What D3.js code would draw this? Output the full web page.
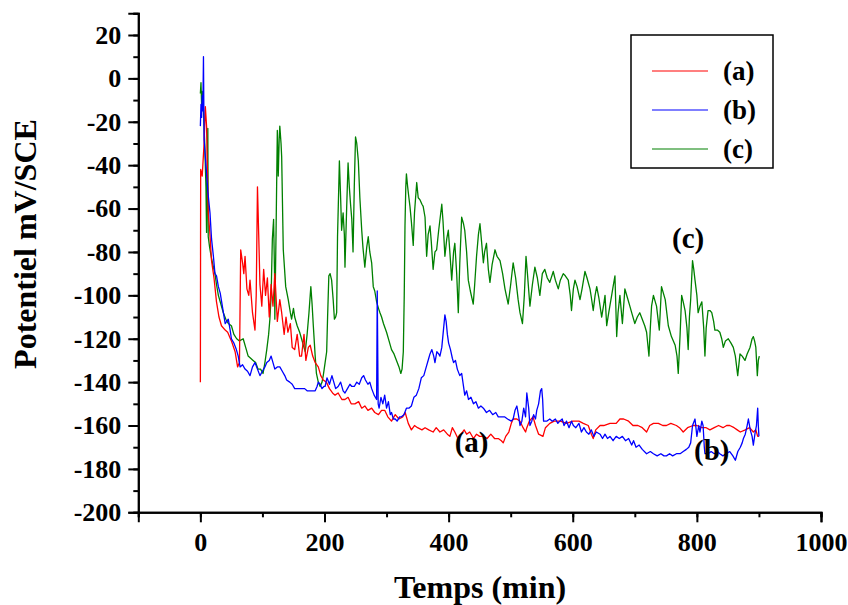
<!DOCTYPE html>
<html><head><meta charset="utf-8">
<script src="https://cdn.jsdelivr.net/npm/d3@7"></script>
<style>body{margin:0;background:#fff;} svg{display:block;} text{font-family:"Liberation Serif","Times New Roman",serif;font-weight:bold;fill:#000;}</style>
</head><body>
<svg id="chart" width="848" height="605"></svg>
<script>
// ---- DATA ----
const seriesNames = ["(a)", "(b)", "(c)"];
const seriesColors = ["#ff0000", "#0000ff", "#008000"];
const xTickValues = [0, 200, 400, 600, 800, 1000];
const yTickValues = [20, 0, -20, -40, -60, -80, -100, -120, -140, -160, -180, -200];

const timeA = [0,0.5,3,6,8,10,12.7,15,18,22,26,30,34,40,44,50,56,60,63,65,68,70,72,75,78,80,84,88,90,92,94,96,99,102,105,108,111,114,117,120,124,128,131,135,138,141,145,148,152,156,160,163,167,170,174,177,181,185,190,194,198,203,208,213,217,222,228,233,238,243,249,255,260,265,270,276,281,287,292,297,302,308,314,320,326,330,335,340,345,350,357,362,368,375,380,386,392,398,402,406,410,415,420,425,429,434,440,445,450,456,462,468,474,480,485,488,492,497,501,504,510,515,520,524,526,530,536,540,545,552,556,563,570,580,590,600,610,617,625,630,633,637,644,650,660,670,676,682,690,697,705,712,719,724,730,738,745,751,758,767,772,778,785,794,800,808,815,821,828,835,842,848,853,860,865,870,878,885,891,895,898,900];
const potA = [-140,-42,-45,-30,-13,-22,-62,-70,-84,-92,-103,-110,-114,-116,-117,-121,-126,-133,-131,-79,-85,-90,-82,-97,-100,-93,-108,-116,-100,-50,-72,-95,-105,-88,-100,-92,-110,-95,-105,-90,-112,-102,-108,-118,-110,-117,-113,-124,-125,-118,-128,-128,-118,-130,-124,-123,-128,-131,-133,-137,-139,-140,-143,-145,-146,-145,-148,-148,-147,-150,-150,-149,-152,-151,-153,-152,-154,-155,-153,-153,-156,-158,-155,-157,-156,-154,-159,-162,-160,-161,-162,-161,-162,-163,-161,-163,-162,-164,-165,-161,-163,-166,-164,-162,-164,-163,-166,-164,-165,-165,-166,-164,-166,-166,-167,-168,-165,-163,-159,-157,-157,-158,-161,-163,-161,-158,-156,-160,-164,-165,-161,-159,-158,-158,-159,-158,-158,-159,-160,-164,-166,-162,-160,-160,-159,-159,-157,-157,-158,-160,-160,-161,-163,-160,-159,-159,-160,-160,-159,-160,-161,-163,-161,-160,-160,-161,-161,-162,-161,-160,-161,-160,-160,-161,-162,-163,-162,-161,-163,-162,-165,-165];

const timeB = [0,1,2,3,4,5,6,8,10,12,15.5,18,21,23.5,26,29,32,36,40,45,48,50,54,58,61,64,68,72,76,80,84,88,92,96,100,104,107,111,114,117,120,124,128,132,136,139,144,148,152,157,162,168,172,177,182,185,188,190,193,196,199,201,204,208,212,215,218,222,226,230,233,237,241,244,248,252,256,260,263,266,270,273,276,280,284,285,286.5,288,291,294,297,300,303,306,308,311,314,317,321,324,328,332,336,340,344,348,352,356,360,364,368,370,373,376,378,381,384,386,389,392,394,396,398,400,403,406,408,411,414,418,421,424,426,429,432,436,440,444,448,452,456,461,466,471,476,480,485,490,495,501,504,507,510,513,515,518,521,524,526,529,531,534,537,540,542,545,548,550,551.5,553,558,563,567,572,576,579,583,586,590,594,598,601,605,610,614,618,622,626,630,634,638,644,648,652,656,660,665,670,675,680,685,690,695,698,702,707,712,719,725,730,736,742,747,751,756,761,767,773,778,783,787,790,793,797,800,803,805,808,810,812,813,818,823,828,833,837,842,847,853,858,862,866,870,873,875,878,881,883,886,889,891,894,896,898,899,900];
const potB = [-22,-12,-18,-8,-15,10,-28,-36,-44,-52,-62,-74,-82,-90,-91,-96,-99,-106,-113,-111,-116,-120,-122,-125,-128,-133,-132,-134,-135,-137,-133,-131,-134,-137,-135,-133,-131,-130,-128,-131,-134,-133,-133,-135,-137,-139,-140,-141,-143,-143,-143,-143,-144,-144,-144,-144,-142,-140,-141,-143,-142,-142,-138,-141,-137,-140,-143,-142,-140,-144,-145,-143,-141,-142,-142,-140,-141,-138,-137,-139,-141,-140,-143,-146,-148,-98,-150,-152,-147,-150,-146,-152,-149,-155,-154,-157,-157,-158,-156,-156,-155,-152,-152,-151,-147,-146,-143,-138,-137,-133,-129,-127,-125,-128,-131,-126,-127,-128,-124,-115,-109,-112,-118,-122,-125,-129,-131,-130,-134,-137,-136,-142,-146,-144,-148,-147,-150,-149,-152,-151,-152,-154,-153,-155,-154,-156,-156,-156,-157,-158,-157,-153,-151,-156,-160,-158,-152,-156,-145,-152,-160,-158,-155,-157,-153,-150,-144,-143,-148,-158,-158,-157,-158,-157,-159,-158,-157,-160,-158,-161,-158,-160,-161,-159,-163,-161,-163,-164,-162,-165,-163,-164,-166,-164,-166,-165,-167,-165,-166,-165,-167,-166,-169,-167,-170,-169,-171,-173,-172,-173,-174,-173,-174,-174,-173,-174,-173,-173,-172,-171,-170,-168,-160,-157,-165,-160,-163,-158,-160,-170,-173,-173,-172,-173,-172,-173,-174,-173,-172,-174,-176,-172,-170,-168,-166,-164,-160,-157,-162,-165,-169,-163,-160,-152,-160,-165];

const timeC = [0,1,2,3,4,5,7,9,10,12,12.7,15,18,21,23.5,26,29,33,37,41,45,50,54,58.5,63,69,73,77,81,85,89,93,97,101,104,107,110,112,114,116,118,119.5,120,122,124,125.5,127,128,130,131,133.6,137.5,141.6,145,147,150,152,156,160,165,169,172,175,178,180,182,185,187,190,193,196,198,201,203.5,205,207,209,211.5,214,216,218,219.6,221,223,224,226,227.6,230,232,233,235.7,238,240,242,244,246,248,250,252,254.5,257,260,262,265,268,270.5,273,276,278.6,281,284,287,289.4,292,295,300,304,308,312,316,320,323,325,327,328.5,329.7,331,332,334,336,337.7,340,343,345,348.6,351,354,357,359,362,364.6,367,370,372,375,378,380.7,384,389,391,394,397,399.5,402,405,408,410,413,415.6,418,421,424,426,429,431.7,435,439.7,442,445,448,450.5,453,456,458,461,464,466.6,470,474.7,478,482.8,487,490.8,493,496,500,504,508,512,515,519,522,524.7,527,531,535,539,543,547,551,555,559,563,568.6,572,576.7,580,584.7,588,592.8,596,598,601,603.6,607,611.7,615,619.7,623,627.8,630,633,636,638.6,642,646.6,650,652,654.7,658,662.7,665,668,670.8,673,676,680,684,688,692,696,700,704,708,712,716,719,722.8,725,727,730,733,735,739.5,743,746,749,754,759,765,768,770,773,775.5,778,781,784,786,788,790,793,795,797,800,802,805,808,811,813,815,818,821,824,827,829,833,837,840,842.6,846,850.6,855,858.7,862,865.8,869.5,873,877.5,881,885.6,889,891,893,895,897.4,899,900.6];
const potC = [-7,-2,-12,-6,-10,-14,-30,-50,-71,-23,-73,-78,-83,-87,-90,-95,-100,-104,-108,-111,-113,-114,-118,-120,-121,-120,-124,-128,-129,-130,-131,-134,-134,-136,-131,-125,-118,-111,-100,-74,-65,-90,-111,-70,-24,-45,-28,-22,-30,-36,-79,-96,-102,-108,-111,-106,-110,-114,-117,-122,-126,-118,-108,-96,-104,-114,-128,-136,-140,-142,-140,-137,-131,-126,-110,-91,-90,-93,-102,-111,-110,-108,-73,-50,-38,-55,-70,-62,-72,-87,-60,-39,-50,-58,-65,-80,-50,-27,-30,-38,-55,-70,-78,-87,-78,-73,-80,-85,-96,-98,-103,-106,-108,-110,-113,-117,-121,-125,-127,-130,-133,-136,-134,-126,-100,-68,-50,-44,-50,-55,-59,-66,-77,-62,-48,-55,-56,-58,-59,-64,-82,-72,-68,-75,-88,-80,-79,-70,-58,-66,-82,-74,-70,-80,-93,-80,-76,-90,-108,-85,-64,-67,-70,-80,-93,-98,-104,-95,-82,-72,-67,-75,-85,-80,-76,-88,-94,-86,-79,-82,-84,-90,-97,-100,-104,-95,-85,-92,-102,-108,-113,-100,-82,-90,-105,-95,-87,-92,-100,-90,-88,-92,-94,-89,-93,-97,-93,-90,-91,-93,-100,-107,-97,-93,-96,-102,-97,-89,-92,-97,-101,-107,-100,-96,-101,-110,-104,-100,-114,-108,-100,-96,-91,-119,-108,-100,-113,-97,-101,-105,-109,-113,-110,-108,-111,-114,-117,-128,-115,-105,-100,-103,-105,-116,-96,-99,-102,-114,-119,-123,-128,-136,-118,-100,-103,-107,-115,-125,-110,-102,-84,-88,-93,-100,-108,-105,-103,-115,-128,-115,-107,-107,-108,-112,-116,-116,-117,-120,-124,-121,-120,-122,-124,-128,-137,-127,-128,-130,-127,-124,-120,-119,-121,-124,-137,-130,-128];

const annotations = [
  {label: "(a)", t: 437, v: -172},
  {label: "(b)", t: 824, v: -176},
  {label: "(c)", t: 786, v: -78}
];

// ---- CHART ----
const svg = d3.select("#chart");
const x = d3.scaleLinear().domain([-100, 1000]).range([138.3, 821]);
const y = d3.scaleLinear().domain([-200, 30]).range([512.3, 13.3]);

const series = [
  {t: timeA, v: potA},
  {t: timeB, v: potB},
  {t: timeC, v: potC}
];

const line = d3.line().x(d => x(d[0])).y(d => y(d[1]));

[2, 0, 1].forEach(i => {
  const s = series[i];
  const pts = s.t.map((t, k) => [t, s.v[k]]);
  svg.append("path").datum(pts)
    .attr("d", line)
    .attr("fill", "none")
    .attr("stroke", seriesColors[i])
    .attr("stroke-width", 1.3)
    .attr("stroke-linejoin", "round");
});

// axes
const xMinor = d3.range(-100, 1001, 100);
const yMinor = d3.range(-200, 31, 10);

svg.append("g").attr("transform", `translate(0,${y(-200)})`)
  .call(d3.axisBottom(x).tickValues(xMinor).tickSize(5).tickFormat(""));
const xMaj = svg.append("g").attr("transform", `translate(0,${y(-200)})`)
  .call(d3.axisBottom(x).tickValues(xTickValues).tickSize(10).tickPadding(10).tickFormat(d3.format("d")));
svg.append("g").attr("transform", `translate(${x(-100)},0)`)
  .call(d3.axisLeft(y).tickValues(yMinor).tickSize(5).tickFormat(""));
const yMaj = svg.append("g").attr("transform", `translate(${x(-100)},0)`)
  .call(d3.axisLeft(y).tickValues(yTickValues).tickSize(10).tickPadding(7).tickFormat(d => d3.format("d")(d).replace("−", "-")));

svg.selectAll(".domain").attr("stroke", "#000").attr("stroke-width", 2);
svg.selectAll(".tick line").attr("stroke", "#000").attr("stroke-width", 2);
svg.selectAll(".tick text").style("font-size", "26px").style("font-family", "'Liberation Serif', serif").style("font-weight", "bold").attr("fill", "#000");
xMaj.selectAll(".tick text").attr("dy", "0.71em");

// axis titles
svg.append("text").attr("x", 480).attr("y", 598).attr("text-anchor", "middle")
  .style("font-size", "32px").text("Temps (min)");
svg.append("text").attr("transform", "translate(36,244) rotate(-90)").attr("text-anchor", "middle")
  .style("font-size", "32px").text("Potentiel mV/SCE");

// annotations
annotations.forEach(a => {
  svg.append("text").attr("x", x(a.t)).attr("y", y(a.v)).attr("text-anchor", "middle")
    .style("font-size", "29px").text(a.label);
});

// legend
const lg = svg.append("g");
lg.append("rect").attr("x", 631).attr("y", 35).attr("width", 142).attr("height", 133)
  .attr("fill", "#fff").attr("stroke", "#000").attr("stroke-width", 1.5);
seriesNames.forEach((n, i) => {
  const yy = 71 + i * 39;
  lg.append("line").attr("x1", 652).attr("x2", 708).attr("y1", yy).attr("y2", yy)
    .attr("stroke", seriesColors[i]).attr("stroke-width", 1.2);
  lg.append("text").attr("x", 723).attr("y", yy + 9).style("font-size", "27px").text(n);
});
</script>
</body></html>
